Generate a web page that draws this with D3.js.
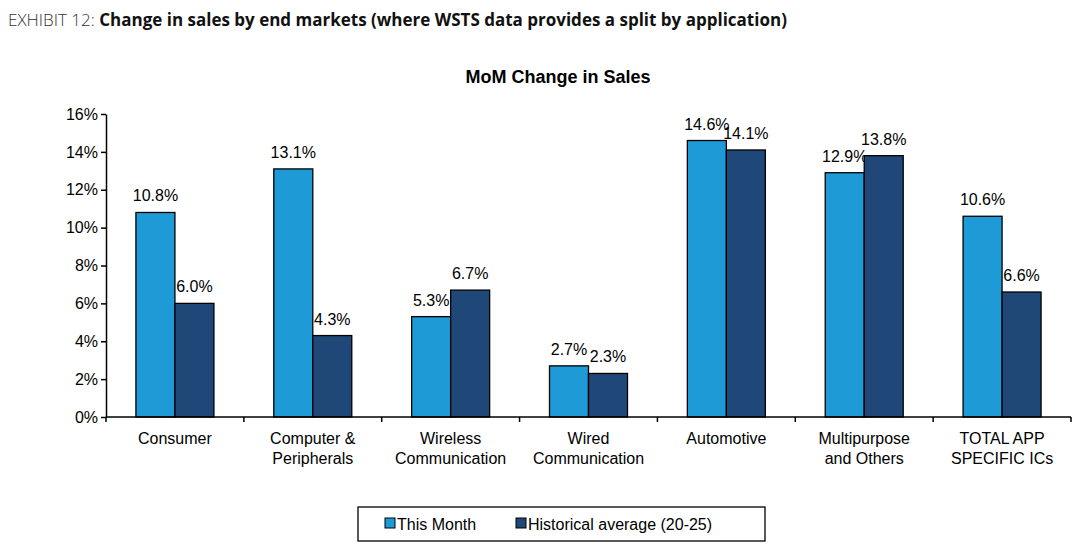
<!DOCTYPE html>
<html><head><meta charset="utf-8">
<script src="https://cdn.jsdelivr.net/npm/d3@7"></script>
<style>body{margin:0;background:#fff}</style>
</head><body><div id="chart"></div>
<script>
const categories = [["Consumer"], ["Computer &", "Peripherals"], ["Wireless", "Communication"], ["Wired", "Communication"], ["Automotive"], ["Multipurpose", "and Others"], ["TOTAL APP", "SPECIFIC ICs"]]
const thisMonth = [10.8, 13.1, 5.3, 2.7, 14.6, 12.9, 10.6]
const historical = [6.0, 4.3, 6.7, 2.3, 14.1, 13.8, 6.6]
const yTicks = [0, 2, 4, 6, 8, 10, 12, 14, 16]
const seriesNames = ["This Month", "Historical average (20-25)"]
const colors = ["#1e9ad6", "#1f4879"]

const W = 1080, H = 551
const margin = {top: 114, right: 9, bottom: 134, left: 106}
const svg = d3.select("#chart").append("svg").attr("width", W).attr("height", H)
  .attr("font-family", "Liberation Sans, Arial, sans-serif")

svg.append("text").attr("x", 8).attr("y", 26).attr("font-size", 17)
  .attr("font-family", "Open Sans, sans-serif")
  .call(t => {
    t.append("tspan").attr("fill", "#333").attr("font-weight", 300).text("EXHIBIT 12: ")
    t.append("tspan").attr("font-weight", "bold").attr("fill", "#111")
      .text("Change in sales by end markets (where WSTS data provides a split by application)")
  })
svg.append("text").attr("x", 558).attr("y", 83).attr("text-anchor", "middle")
  .attr("font-size", 18).attr("font-weight", "bold").text("MoM  Change in Sales")

const x = d3.scaleBand().domain(d3.range(categories.length))
  .range([margin.left, W - margin.right])
const y = d3.scaleLinear().domain([0, 16]).range([H - margin.bottom, margin.top])
const barW = 39

const g = svg.append("g")
const series = [thisMonth, historical]
series.forEach((vals, s) => {
  vals.forEach((v, i) => {
    const bx = x(i) + x.bandwidth() / 2 - barW + s * barW
    g.append("rect").attr("x", bx).attr("y", y(v)).attr("width", barW)
      .attr("height", y(0) - y(v)).attr("fill", colors[s])
      .attr("stroke", "#000").attr("stroke-width", 1.3)
    g.append("text").attr("x", bx + barW / 2).attr("y", y(v) - 11)
      .attr("text-anchor", "middle").attr("font-size", 16).text(v.toFixed(1) + "%")
  })
})

const yAxis = svg.append("g").attr("transform", `translate(${margin.left},0)`)
  .call(d3.axisLeft(y).tickValues(yTicks).tickFormat(d => d + "%").tickSize(5).tickSizeOuter(0))
yAxis.selectAll("text").attr("font-size", 16).attr("fill", "#000")
yAxis.selectAll("line,path").attr("stroke", "#000").attr("stroke-width", 1.5)

const xAxis = svg.append("g").attr("transform", `translate(0,${y(0)})`)
xAxis.append("line").attr("x1", margin.left).attr("x2", W - margin.right)
  .attr("stroke", "#000").attr("stroke-width", 1.5)
d3.range(categories.length + 1).forEach(i => {
  const tx = margin.left + i * x.step()
  xAxis.append("line").attr("x1", tx).attr("x2", tx).attr("y1", 0).attr("y2", 5)
    .attr("stroke", "#000").attr("stroke-width", 1.5)
})
categories.forEach((c, i) => {
  const t = xAxis.append("text").attr("text-anchor", "middle").attr("font-size", 16)
  c.forEach((line, k) => t.append("tspan").attr("x", x(i) + x.bandwidth() / 2)
    .attr("y", 27 + k * 20).text(line))
})

const leg = svg.append("g")
leg.append("rect").attr("x", 358).attr("y", 507).attr("width", 407).attr("height", 34)
  .attr("fill", "none").attr("stroke", "#000").attr("stroke-width", 1.3)
const legX = [385, 516]
seriesNames.forEach((n, s) => {
  leg.append("rect").attr("x", legX[s]).attr("y", 518).attr("width", 10).attr("height", 10)
    .attr("fill", colors[s]).attr("stroke", "#000")
  leg.append("text").attr("x", legX[s] + 12).attr("y", 530).attr("font-size", 16).text(n)
})
</script></body></html>
